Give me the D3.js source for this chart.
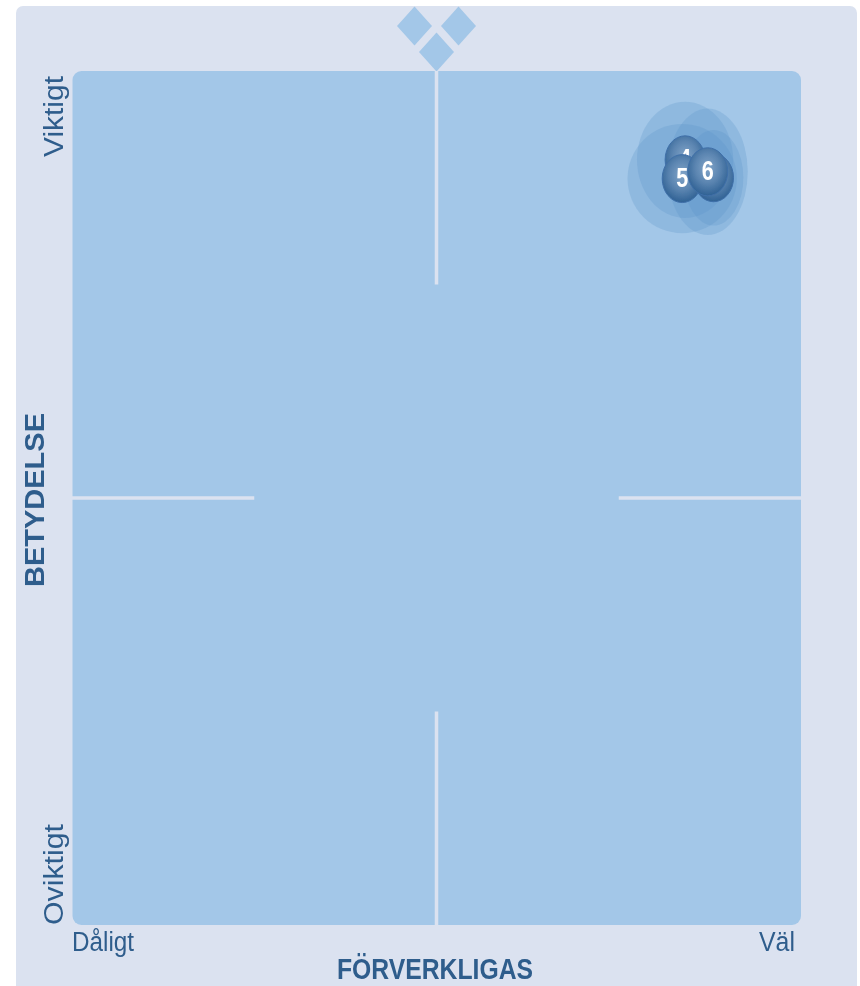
<!DOCTYPE html>
<html>
<head>
<meta charset="utf-8">
<script src="https://cdn.jsdelivr.net/npm/d3@7"></script>
<style>
  body { margin: 0; background: #fff; }
  svg { display: block; }
  text { font-family: "Liberation Sans", sans-serif; }
</style>
</head>
<body>
<svg id="chart" width="860" height="986"></svg>
<script>
/////////////////////////////////////////////////////////////////////////////////////
// Data (both axes run 0-100)
var labels = ["4", "3", "5", "6"];
var perf = [84.1, 88.0, 83.7, 87.2];       // forverkligas
var importance = [89.6, 87.5, 87.4, 88.2]; // betydelse
var spreadX = [6.6, 4.1, 7.5, 5.5];
var spreadY = [6.8, 5.6, 6.4, 7.4];
var crossGaps = [[0, 25], [75, 100]];

var xLabels = ["Dåligt", "Väl"];
var yLabels = ["Oviktigt", "Viktigt"];

/////////////////////////////////////////////////////////////////////////////////////
// Margins
var svg = d3.select("#chart");
var plot = {left: 72, right: 801, top: 71, bottom: 925};
var panelColor = "#dbe2f0", plotColor = "#a3c7e8", textColor = "#2f5d8c";

var xScale = d3.scaleLinear().domain([0, 100]).range([plot.left, plot.right]);
var yScale = d3.scaleLinear().domain([0, 100]).range([plot.bottom, plot.top]);

var defs = svg.append("defs");
var grad = defs.append("radialGradient").attr("id", "ball")
  .attr("cx", "50%").attr("cy", "42%").attr("r", "58%");
grad.append("stop").attr("offset", "0%").attr("stop-color", "#82a5c9");
grad.append("stop").attr("offset", "55%").attr("stop-color", "#5a84b0");
grad.append("stop").attr("offset", "100%").attr("stop-color", "#2f6194");
defs.append("filter").attr("id", "soft")
  .append("feGaussianBlur").attr("stdDeviation", 0.7);
defs.append("filter").attr("id", "softText")
  .append("feGaussianBlur").attr("stdDeviation", 0.35);

/////////////////////////////////////////////////////////////////////////////////////
// Background
svg.append("rect").attr("x", 16).attr("y", 6).attr("width", 841).attr("height", 990)
  .attr("rx", 7).attr("fill", panelColor);
svg.append("rect").attr("x", plot.left + 0.5).attr("y", plot.top)
  .attr("width", plot.right - plot.left - 0.5).attr("height", plot.bottom - plot.top)
  .attr("rx", 9).attr("fill", plotColor);

// diamonds on top
var diamonds = [[-22, -45], [22, -45], [0, -19]];
svg.selectAll(".diamond")
  .data(diamonds)
  .enter()
  .append("path")
  .attr("class", "diamond")
  .attr("d", function(d) {
    var cx = xScale(50) + d[0], cy = plot.top + d[1];
    return "M" + (cx - 17.5) + "," + cy + "L" + cx + "," + (cy - 19.5) + "L" + (cx + 17.5) + "," + cy + "L" + cx + "," + (cy + 19.5) + "Z";
  })
  .attr("fill", plotColor);

// cross in the middle
crossGaps.forEach(function(g) {
  svg.append("line")
     .attr("x1", xScale(50)).attr("x2", xScale(50))
     .attr("y1", yScale(g[0])).attr("y2", yScale(g[1]))
     .attr("stroke", panelColor).attr("stroke-width", 3.5);
  svg.append("line")
     .attr("x1", xScale(g[0])).attr("x2", xScale(g[1]))
     .attr("y1", yScale(50)).attr("y2", yScale(50))
     .attr("stroke", panelColor).attr("stroke-width", 3.5);
});

/////////////////////////////////////////////////////////////////////////////////////
// Spread halos and bubbles
var points = labels.map(function(l, i) {
  return {label: l, x: perf[i], y: importance[i], sx: spreadX[i], sy: spreadY[i]};
});

svg.selectAll(".halo")
   .data(points)
   .enter()
   .append("ellipse")
   .attr("class", "halo")
   .attr("cx", function(d) { return xScale(d.x); })
   .attr("cy", function(d) { return yScale(d.y); })
   .attr("rx", function(d) { return xScale(d.sx) - xScale(0); })
   .attr("ry", function(d) { return yScale(0) - yScale(d.sy); })
   .attr("fill", "#5b93c6")
   .attr("fill-opacity", 0.27)
   .attr("filter", "url(#soft)");

var balls = svg.selectAll(".ball")
   .data(points)
   .enter()
   .append("g")
   .attr("class", "ball")
   .attr("transform", function(d) { return "translate(" + xScale(d.x) + "," + yScale(d.y) + ")"; });

balls.append("ellipse")
   .attr("rx", 20).attr("ry", 24)
   .attr("fill", "url(#ball)")
   .attr("stroke", "#3f6f a8".replace(" ", "")).attr("stroke-width", 1)
   .attr("filter", "url(#soft)");

balls.append("text")
   .attr("text-anchor", "middle")
   .attr("y", 8)
   .attr("fill", "#fff")
   .attr("font-size", 28)
   .attr("font-weight", "bold")
   .attr("textLength", 12)
   .attr("lengthAdjust", "spacingAndGlyphs")
   .attr("filter", "url(#softText)")
   .text(function(d) { return d.label; });

/////////////////////////////////////////////////////////////////////////////////////
// Axis labels (the original face is narrow, so widths are forced)
function addLabel(x, y, rotate, txt, size, bold, len) {
  svg.append("text")
     .attr("transform", "translate(" + x + "," + y + ")" + (rotate ? " rotate(-90)" : ""))
     .attr("font-size", size)
     .attr("font-weight", bold ? "bold" : "normal")
     .attr("fill", textColor)
     .attr("textLength", len)
     .attr("lengthAdjust", "spacingAndGlyphs")
     .attr("filter", "url(#softText)")
     .text(txt);
}

addLabel(xScale(0), 951, false, xLabels[0], 27, false, 62);
addLabel(759, 951, false, xLabels[1], 27, false, 36);
addLabel(337, 979, false, "FÖRVERKLIGAS", 29, true, 196);
addLabel(63, 925, true, yLabels[0], 27, false, 101);
addLabel(63, 157, true, yLabels[1], 27, false, 81);
addLabel(44, 587, true, "BETYDELSE", 27, true, 174);
</script>
</body>
</html>
